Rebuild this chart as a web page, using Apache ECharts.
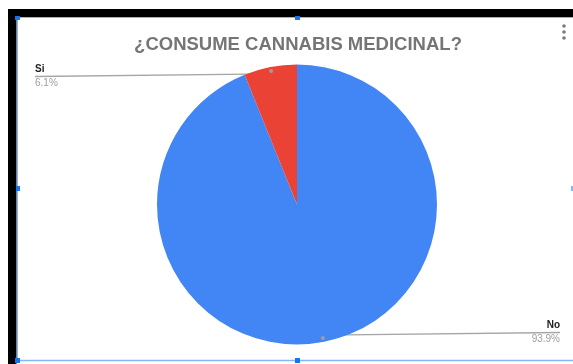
<!DOCTYPE html>
<html>
<head>
<meta charset="utf-8">
<script src="https://cdn.jsdelivr.net/npm/echarts@6/dist/echarts.min.js"></script>
<style>
  html, body { margin: 0; padding: 0; background: #ffffff; }
  #chart { width: 573px; height: 364px; }
</style>
</head>
<body>
<div id="chart"></div>
<script>
// Answers to the survey question
const categories = ['No', 'Si'];
const shares = [93.9, 6.1];          // percent of respondents
const sliceColors = ['#4285f4', '#ea4335'];
const chartTitle = '¿CONSUME CANNABIS MEDICINAL?';

// Pie geometry (pixels)
const CX = 297, CY = 204.5, R = 140;
const ANCHOR_RATIO = 0.95;            // where the leader line starts inside a slice
const FONT = '"Liberation Sans", Arial, sans-serif';

// Label placement: right-hand label and left-hand label
const labelSpots = [
  { x: 560, y: 332.5, align: 'right' },
  { x: 35,  y: 76.5,  align: 'left' }
];

const total = shares.reduce((a, b) => a + b, 0);
function anchorOf(i) {
  let before = 0;
  for (let k = 0; k < i; k++) before += shares[k];
  const mid = (before + shares[i] / 2) / total * Math.PI * 2;
  const rr = R * ANCHOR_RATIO;
  return [CX + rr * Math.sin(mid), CY - rr * Math.cos(mid)];
}

const pieData = categories.map((name, i) => ({
  name: name,
  value: shares[i],
  itemStyle: { color: sliceColors[i] }
}));

const chart = echarts.init(document.getElementById('chart'), null, { renderer: 'canvas' });

chart.setOption({
  animation: false,
  backgroundColor: '#ffffff',
  title: {
    text: chartTitle,
    left: 298,
    top: 35,
    padding: 0,
    textAlign: 'center',
    textStyle: { color: '#757575', fontSize: 18.5, fontWeight: 'bold', fontFamily: FONT }
  },
  graphic: [
    // dark frame behind the chart card
    { type: 'rect', shape: { x: 8, y: 9, width: 565, height: 8 }, style: { fill: '#000000' }, silent: true },
    { type: 'rect', shape: { x: 8, y: 9, width: 8.5, height: 355 }, style: { fill: '#000000' }, silent: true },
    // selection outline
    { type: 'line', shape: { x1: 17, y1: 17.5, x2: 573, y2: 17.5 }, style: { stroke: '#8ab4f8', lineWidth: 1 }, silent: true },
    { type: 'line', shape: { x1: 17.5, y1: 17, x2: 17.5, y2: 361 }, style: { stroke: '#8ab4f8', lineWidth: 1 }, silent: true },
    { type: 'line', shape: { x1: 17, y1: 360.5, x2: 573, y2: 360.5 }, style: { stroke: '#8ab4f8', lineWidth: 1.5 }, silent: true },
    // selection handles
    { type: 'rect', shape: { x: 15, y: 16, width: 5, height: 4 }, style: { fill: '#1a73e8' }, silent: true },
    { type: 'rect', shape: { x: 295, y: 16, width: 5, height: 4 }, style: { fill: '#1a73e8' }, silent: true },
    { type: 'rect', shape: { x: 16, y: 186, width: 4, height: 5 }, style: { fill: '#1a73e8' }, silent: true },
    { type: 'rect', shape: { x: 15, y: 358, width: 5, height: 5 }, style: { fill: '#1a73e8' }, silent: true },
    { type: 'rect', shape: { x: 295, y: 358, width: 5, height: 5 }, style: { fill: '#1a73e8' }, silent: true },
    { type: 'rect', shape: { x: 571, y: 186, width: 2, height: 5 }, style: { fill: '#8ab4f8' }, silent: true },
    // overflow menu dots
    { type: 'circle', shape: { cx: 564, cy: 26, r: 1.8 }, style: { fill: '#7a7a7a' }, silent: true },
    { type: 'circle', shape: { cx: 564, cy: 32, r: 1.8 }, style: { fill: '#7a7a7a' }, silent: true },
    { type: 'circle', shape: { cx: 564, cy: 38, r: 1.8 }, style: { fill: '#7a7a7a' }, silent: true }
  ],
  series: [
    {
      type: 'pie',
      center: [CX, CY],
      radius: R,
      startAngle: 90,
      clockwise: true,
      silent: true,
      itemStyle: { borderWidth: 0 },
      data: pieData,
      label: {
        show: true,
        formatter: '{n|{b}}\n{v|{c}%}',
        rich: {
          n: { fontFamily: FONT, fontSize: 10, fontWeight: 'bold', color: '#222222', lineHeight: 14 },
          v: { fontFamily: FONT, fontSize: 10, color: '#9e9e9e', lineHeight: 14 }
        }
      },
      labelLine: {
        show: true,
        lineStyle: { color: '#a6a6a6', width: 1.3 }
      },
      labelLayout: function (params) {
        const spot = labelSpots[params.dataIndex];
        return {
          x: spot.x,
          y: spot.y,
          align: spot.align,
          verticalAlign: 'middle',
          labelLinePoints: [anchorOf(params.dataIndex), [spot.x, spot.y]]
        };
      }
    },
    {
      // thin invisible ring whose inside labels mark the leader-line anchors
      type: 'pie',
      center: [CX, CY],
      radius: [R * ANCHOR_RATIO - 1, R * ANCHOR_RATIO + 1],
      startAngle: 90,
      clockwise: true,
      silent: true,
      itemStyle: { color: 'rgba(0,0,0,0)', borderWidth: 0 },
      data: pieData.map(d => ({ name: d.name, value: d.value })),
      label: {
        show: true,
        position: 'inside',
        formatter: '{dot| }',
        rich: {
          dot: { width: 4, height: 4, fontSize: 2, backgroundColor: '#9e9e9e', borderRadius: 2 }
        }
      },
      labelLine: { show: false }
    }
  ]
});
</script>
</body>
</html>
